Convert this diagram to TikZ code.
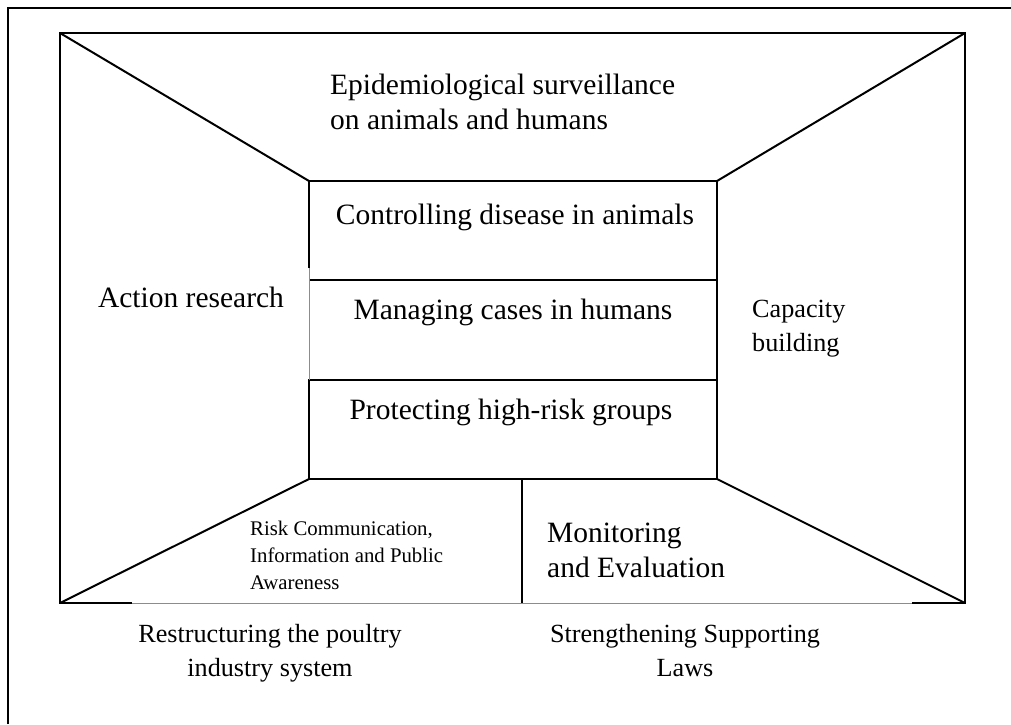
\documentclass[tikz,border=0pt]{standalone}
\usepackage{fontspec}
\setmainfont{Liberation Serif}
\begin{document}
\begin{tikzpicture}[x=1pt,y=-1pt,
  blk/.style={line width=2pt,black},
  gry/.style={line width=1pt,black!45},
  lbl/.style={font=\fontsize{29.5}{34.5}\selectfont,inner sep=0pt},
  lblm/.style={font=\fontsize{26.2}{33.5}\selectfont,inner sep=0pt},
  lbls/.style={font=\fontsize{20.8}{27}\selectfont,inner sep=0pt}]
\useasboundingbox (0,0) rectangle (1011,724);
% outer border (top and left only visible)
\coordinate (o1) at (8,724);
\coordinate (o2) at (8,8);
\coordinate (o3) at (1011,8);
\draw[blk] (o1) -- (o2) -- (o3);
% frame corners
\coordinate (A) at (60,33);
\coordinate (B) at (965,33);
\coordinate (C) at (965,603);
\coordinate (D) at (60,603);
\coordinate (Dg) at (132,603);
\coordinate (Cg) at (912,603);
% inner box corners
\coordinate (a) at (309,181);
\coordinate (b) at (717,181);
\coordinate (c) at (717,479);
\coordinate (d) at (309,479);
\coordinate (r1l) at (309,280);
\coordinate (r1r) at (717,280);
\coordinate (r2l) at (309,380);
\coordinate (r2r) at (717,380);
\coordinate (lg) at (309,268);
\coordinate (m1) at (522,479);
\coordinate (m2) at (522,603);
% frame
\draw[blk] (Dg) -- (D) -- (A) -- (B) -- (C) -- (Cg);
\draw[gry] (Dg) -- (Cg);
% diagonals
\draw[blk] (A) -- (a);
\draw[blk] (B) -- (b);
\draw[blk] (C) -- (c);
\draw[blk] (D) -- (d);
% inner box
\draw[blk] (lg) -- (a) -- (b) -- (c) -- (d) -- (r2l) -- (r2r);
\draw[blk] (r1l) -- (r1r);
\draw[gry] (lg) -- (r2l);
\draw[blk] (m1) -- (m2);
% texts (multi-line nodes anchored at the last line's baseline)
\node[lbl,anchor=base west,align=left] (t1) at (330,129) {Epidemiological surveillance\\on animals and humans};
\node[lbl,anchor=base] (t2) at (515,224) {Controlling disease in animals};
\node[lbl,anchor=base] (t3) at (513,319) {Managing cases in humans};
\node[lbl,anchor=base] (t4) at (511,419) {Protecting high-risk groups};
\node[lbl,anchor=base] (t5) at (191,307) {Action research};
\node[lblm,anchor=base west,align=left] (t6) at (752,351) {Capacity\\building};
\node[lbls,anchor=base west,align=left] (t7) at (250,589) {Risk Communication,\\Information and Public\\Awareness};
\node[lbl,anchor=base west,align=left] (t8) at (547,577) {Monitoring\\and Evaluation};
\node[lblm,anchor=base,align=center] (t9) at (270,676) {Restructuring the poultry\\industry system};
\node[lblm,anchor=base,align=center] (t10) at (685,676) {Strengthening Supporting\\Laws};
\end{tikzpicture}
\end{document}
